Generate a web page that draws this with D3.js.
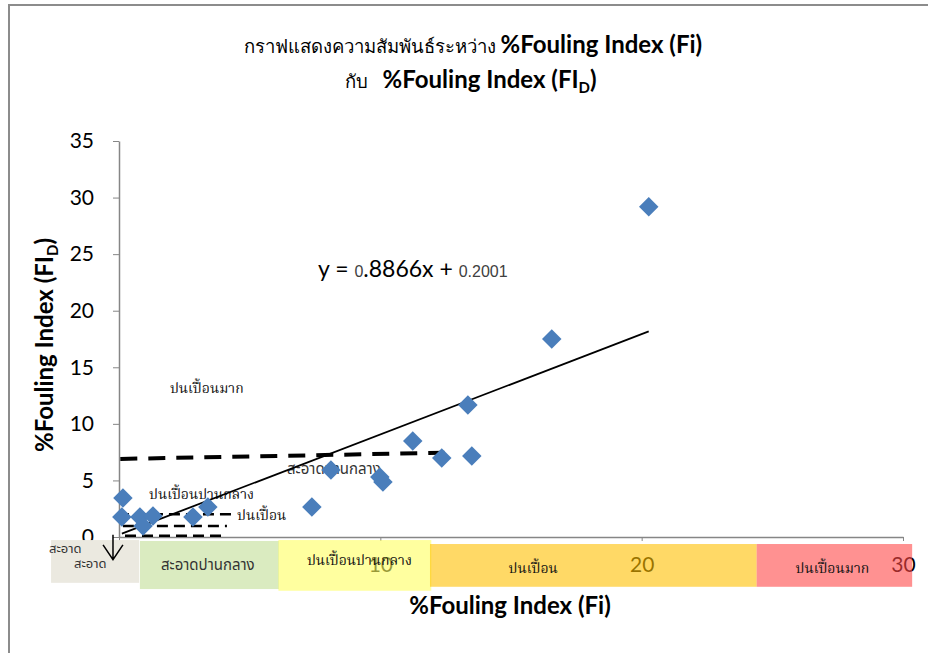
<!DOCTYPE html>
<html>
<head>
<meta charset="utf-8">
<script src="https://cdn.jsdelivr.net/npm/d3@7"></script>
<style>
  body { margin: 0; background: #fff; }
  svg { display: block; }
  .axis path, .axis line { stroke: #868686; }
  .ylab text { font-family: Lato, "Open Sans", sans-serif; font-size: 21px; fill: #000; }
  .xlab text { font-family: Lato, "Open Sans", sans-serif; font-size: 21px; fill: #000; }
  .title { font-family: Lato, "Noto Sans", sans-serif; font-size: 24px; fill: #000; }
  .thai-serif { font-family: "Noto Serif Thai", "TLWG Typo", "Noto Serif", serif; font-size: 14px; fill: #111; }
  .thai-sans { font-family: Tahoma, "Noto Sans Thai", "DejaVu Sans", sans-serif; font-size: 15px; fill: #333; }
  .thai-small { font-size: 13px; }
</style>
</head>
<body>
<div id="chart"></div>
<script>
var fiX  = [0.15, 0.11, 0.80, 0.92, 1.30, 2.83, 3.40, 7.38, 8.11, 9.98, 10.1, 11.24, 12.35, 13.35, 13.5, 16.56, 20.27];
var fidY = [3.45, 1.77, 1.77, 0.97, 1.86, 1.77, 2.65, 2.65, 5.92, 5.30, 4.86, 8.49, 6.98, 11.67, 7.16, 17.5, 29.18];

// linear trendline
var slope = 0.8866, intercept = 0.2001;

var xTicks = [0, 10, 20, 30];
var yTicks = [0, 5, 10, 15, 20, 25, 30, 35];

// coloured zones under the x axis
var zoneLabels = ["สะอาด", "สะอาดปานกลาง", "ปนเปื้อนปานกลาง", "ปนเปื้อน", "ปนเปื้อนมาก"];
var zoneStart  = [-2.6, 0.8, 6.1, 11.9, 24.4];
var zoneEnd    = [0.77, 6.12, 11.95, 24.4, 30.35];

// dashed guides drawn in the plot (x0, x1, y0, y1)
var guideX0 = [0.05, -0.04, 0.15, 0.23];
var guideX1 = [12.45, 4.4, 4.13, 4.0];
var guideY0 = [6.9, 2.0, 0.97, 0.12];
var guideY1 = [7.45, 2.0, 0.97, 0.12];

// text notes inside the plot
var noteLabels = ["ปนเปื้อนมาก", "ปนเปื้อนปานกลาง", "ปนเปื้อน", "สะอาดปานกลาง", "สะอาด"];
var noteX = [1.95, 1.15, 4.52, 6.43, -2.68];
var noteY = [12.7, 3.4, 1.5, 5.6, -1.45];

var W = 928, H = 653;

var svg = d3.select("#chart").append("svg")
    .attr("width", W)
    .attr("height", H);

// outer frame of the chart
svg.append("rect")
    .attr("x", 9).attr("y", 5)
    .attr("width", W + 10).attr("height", H + 10)
    .attr("fill", "#fff")
    .attr("stroke", "#8c8c8c")
    .attr("stroke-width", 2);

//scale functions
var xScale = d3.scaleLinear().domain([0, 30]).range([119, 903]);
var yScale = d3.scaleLinear().domain([0, 35]).range([537, 141]);

// title
var t1 = svg.append("text").attr("class", "title")
    .attr("x", 473).attr("y", 53).attr("text-anchor", "middle");
t1.append("tspan").style("font-size", "18.5px").text("กราฟแสดงความสัมพันธ์ระหว่าง ");
t1.append("tspan").attr("font-weight", "bold").text("%Fouling Index (Fi)");

var t2 = svg.append("text").attr("class", "title")
    .attr("x", 471).attr("y", 88).attr("text-anchor", "middle");
t2.append("tspan").style("font-size", "18.5px").text("กับ\u00a0\u00a0\u00a0");
t2.append("tspan").attr("font-weight", "bold").text("%Fouling Index (FI");
t2.append("tspan").attr("font-weight", "bold").style("font-size", "15px").attr("dy", 5).text("D");
t2.append("tspan").attr("font-weight", "bold").attr("dy", -5).text(")");

// axes
var xAxis = d3.axisBottom(xScale).tickValues(xTicks).tickSize(4).tickSizeOuter(0).tickPadding(16);
var yAxis = d3.axisLeft(yScale).tickValues(yTicks).tickSize(6).tickSizeOuter(0).tickPadding(19);

svg.append("g")
    .attr("class", "axis xlab")
    .attr("transform", "translate(0," + yScale(0) + ")")
    .call(xAxis);

svg.append("g")
    .attr("class", "axis ylab")
    .attr("transform", "translate(" + xScale(0) + ",0)")
    .call(yAxis);

svg.selectAll(".axis .domain").attr("stroke-width", 1.5);

// zones (translucent, so the tick labels show through tinted)
var zoneFill = ["#ebe9e0", "#c1de96", "#ffff5f", "#ffc000", "#ff4747"];
var zoneOpac = [1, 0.6, 0.6, 0.6, 0.6];
var zoneTop  = [-0.27, -0.35, -0.27, -0.62, -0.62];
var zoneBot  = [-4.05, -4.6, -4.75, -4.4, -4.4];
var zoneTextX = [-1.1, 3.4, 9.2, 15.85, 27.3];
var zoneTextY = [-2.75, -2.9, -2.5, -3.15, -3.15];

zoneLabels.forEach(function(lab, i) {
    svg.append("rect")
        .attr("x", xScale(zoneStart[i]))
        .attr("y", yScale(zoneTop[i]))
        .attr("width", xScale(zoneEnd[i]) - xScale(zoneStart[i]))
        .attr("height", yScale(zoneBot[i]) - yScale(zoneTop[i]))
        .attr("fill", zoneFill[i])
        .attr("fill-opacity", zoneOpac[i]);
});
zoneLabels.forEach(function(lab, i) {
    svg.append("text")
        .attr("class", i == 0 ? "thai-sans thai-small" : (i == 1 ? "thai-sans" : "thai-serif"))
        .attr("x", xScale(zoneTextX[i]))
        .attr("y", yScale(zoneTextY[i]))
        .attr("text-anchor", "middle")
        .text(lab);
});

// dashed guides
guideX0.forEach(function(x0, i) {
    svg.append("line")
        .attr("x1", xScale(x0)).attr("y1", yScale(guideY0[i]))
        .attr("x2", xScale(guideX1[i])).attr("y2", yScale(guideY1[i]))
        .attr("stroke", "#000")
        .attr("stroke-width", i == 0 ? 4 : 2.5)
        .attr("stroke-dasharray", i == 0 ? "17,11" : "11,6");
});

// arrow pointing down at the origin
var ax = -0.23;
svg.append("path")
    .attr("d", "M" + xScale(ax) + "," + yScale(0.2) + "L" + xScale(ax) + "," + yScale(-2.0) +
               "M" + xScale(ax - 0.38) + "," + yScale(-0.7) + "L" + xScale(ax) + "," + yScale(-2.0) +
               "L" + xScale(ax + 0.38) + "," + yScale(-0.7))
    .attr("fill", "none")
    .attr("stroke", "#000")
    .attr("stroke-width", 1.5);

// notes
noteLabels.forEach(function(lab, i) {
    svg.append("text")
        .attr("class", i == 4 ? "thai-sans thai-small" : (i == 3 ? "thai-sans" : "thai-serif"))
        .attr("x", xScale(noteX[i]))
        .attr("y", yScale(noteY[i]))
        .text(lab);
});

// trendline over the data range
var xMin = d3.min(fiX), xMax = d3.max(fiX);
svg.append("line")
    .attr("x1", xScale(xMin)).attr("y1", yScale(slope * xMin + intercept))
    .attr("x2", xScale(xMax)).attr("y2", yScale(slope * xMax + intercept))
    .attr("stroke", "#000")
    .attr("stroke-width", 1.8);

// points
var diamond = d3.symbol().type(d3.symbolSquare).size(190);
svg.selectAll(".dot")
    .data(fiX)
    .enter().append("path")
    .attr("class", "dot")
    .attr("d", diamond)
    .attr("fill", "#4a7ebb")
    .attr("transform", function(d, i) { return "translate(" + xScale(d) + "," + yScale(fidY[i]) + ") rotate(45)"; });

// equation
var eq = svg.append("text")
    .attr("x", 318).attr("y", 277)
    .style("font-family", "Lato, 'Open Sans', sans-serif")
    .style("font-size", "23px")
    .attr("fill", "#000");
eq.append("tspan").text("y = ");
eq.append("tspan").style("font-family", "'Liberation Sans', Arial, sans-serif").style("font-size", "16px").attr("fill", "#404040").text("0");
eq.append("tspan").text(".8866x + ");
eq.append("tspan").style("font-family", "'Liberation Sans', Arial, sans-serif").style("font-size", "16px").attr("fill", "#404040").text(intercept.toFixed(4));

// axis titles
svg.append("text")
    .attr("x", 510).attr("y", 614)
    .attr("text-anchor", "middle")
    .style("font-family", "Lato, 'Open Sans', sans-serif")
    .style("font-size", "24px")
    .attr("font-weight", "bold")
    .text("%Fouling Index (Fi)");

var yt = svg.append("text")
    .attr("transform", "translate(53,345) rotate(-90)")
    .attr("text-anchor", "middle")
    .style("font-family", "Lato, 'Open Sans', sans-serif")
    .style("font-size", "24px")
    .attr("font-weight", "bold");
yt.append("tspan").text("%Fouling Index (FI");
yt.append("tspan").style("font-size", "15px").attr("dy", 5).text("D");
yt.append("tspan").attr("dy", -5).text(")");
</script>
</body>
</html>
